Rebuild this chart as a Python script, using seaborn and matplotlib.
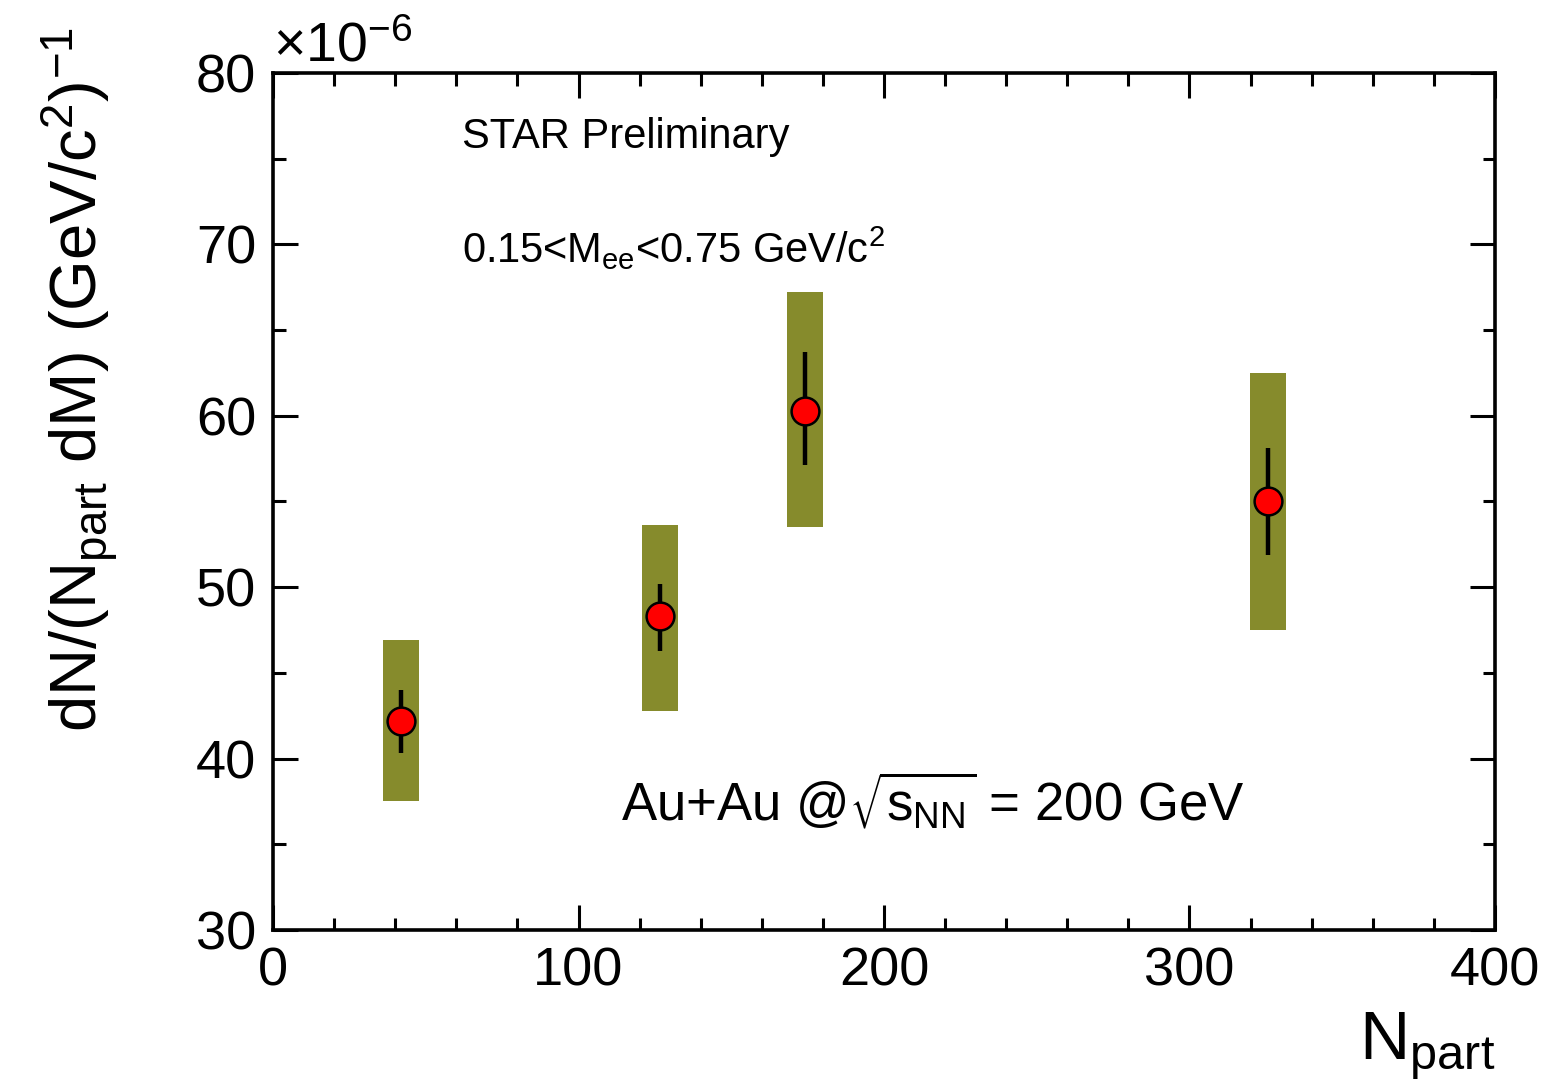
import numpy as np
import pandas as pd
import seaborn as sns
import matplotlib.pyplot as plt

# values in units of 1e-6
npart = [41.9, 126.7, 174.1, 325.7]
yields = [42.2, 48.3, 60.3, 55.0]
stat_lo = [40.3, 46.3, 57.1, 51.9]
stat_hi = [44.0, 50.2, 63.7, 58.1]
sys_lo = [37.5, 42.8, 53.5, 47.5]
sys_hi = [46.9, 53.6, 67.2, 62.5]
box_w = 12

df = pd.DataFrame({"Npart": npart, "y": yields})

sns.set_style("ticks")
plt.rcParams['font.family'] = ['Liberation Sans', 'DejaVu Sans']
plt.rcParams['mathtext.default'] = 'regular'
plt.rcParams['text.color'] = 'black'
plt.rcParams['xtick.color'] = 'black'
plt.rcParams['ytick.color'] = 'black'
plt.rcParams['axes.edgecolor'] = 'black'

fig = plt.figure(figsize=(15.46, 10.85), dpi=100)
ax = fig.add_axes([0.1766, 0.1429, 0.967 - 0.1766, 0.9327 - 0.1429])

# systematic boxes
ax.bar(npart, np.array(sys_hi) - np.array(sys_lo), bottom=sys_lo, width=box_w,
       color="#868B2C", edgecolor="none", zorder=1)
# stat errors
ax.vlines(npart, stat_lo, stat_hi, color="black", lw=3.2, zorder=2)
sns.scatterplot(data=df, x="Npart", y="y", ax=ax, s=400, color="red",
                edgecolor="black", linewidth=1.8, zorder=3, legend=False)

ax.set_xlim(0, 400)
ax.set_ylim(30, 80)
ax.set_xticks(np.arange(0, 401, 100))
ax.set_xticks(np.arange(0, 401, 20), minor=True)
ax.set_yticks(np.arange(30, 81, 10))
ax.set_yticks(np.arange(30, 81, 5), minor=True)
ax.tick_params(which="both", direction="in", top=True, right=True, width=2.2)
ax.tick_params(which="major", length=18, labelsize=39, pad=12)
ax.tick_params(which="minor", length=9)
for s in ax.spines.values():
    s.set_linewidth(2.6)
    s.set_visible(True)

ax.set_xlabel("")
ax.set_ylabel("")
fig.text(0.967, 0.003, r"N$_{part}$", fontsize=50, ha="right", va="bottom")
fig.text(0.026, 0.975, r"dN/(N$_{part}$ dM) (GeV/c$^{2}$)$^{-1}$", fontsize=47,
         rotation=90, ha="left", va="top")
ax.text(0.0, 1.0, r"$\times$10$^{-6}$", transform=ax.transAxes, fontsize=40,
        ha="left", va="bottom")

ax.text(0.155, 0.925, "STAR Preliminary", transform=ax.transAxes, fontsize=30,
        ha="left", va="center")
ax.text(0.155, 0.795, r"0.15<M$_{ee}$<0.75 GeV/c$^{2}$", transform=ax.transAxes,
        fontsize=30, ha="left", va="center")
ax.text(0.285, 0.15, r"Au+Au @$\sqrt{s_{NN}}$ = 200 GeV", transform=ax.transAxes,
        fontsize=38, ha="left", va="center")

fig.savefig("out.png", dpi=100)
